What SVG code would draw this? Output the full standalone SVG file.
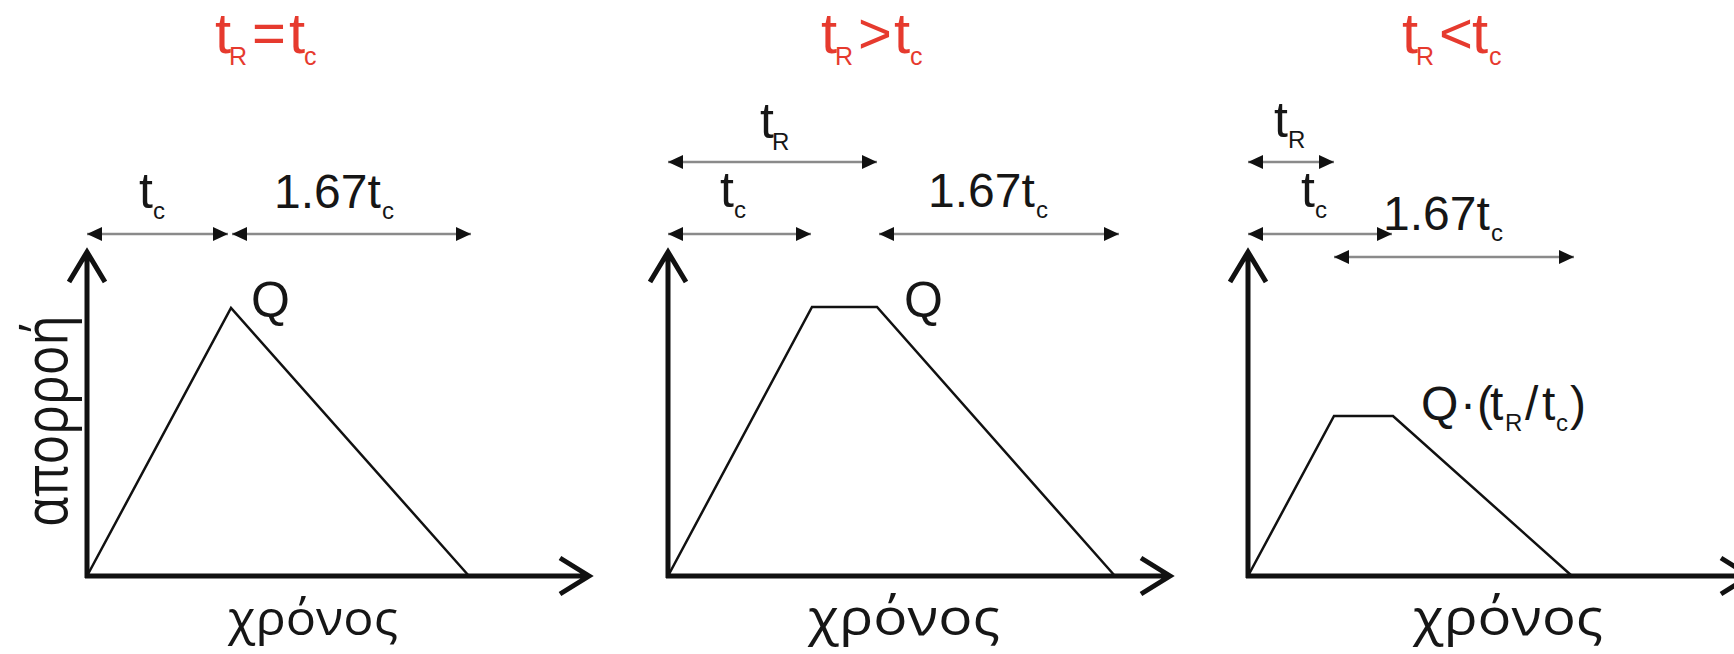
<svg xmlns="http://www.w3.org/2000/svg" width="1734" height="654" viewBox="0 0 1734 654">
<defs>
<style>
.title{font-family:"Liberation Sans",Arial,sans-serif;fill:#e63a2e}
.lbl{font-family:"Liberation Sans",Arial,sans-serif;fill:#161616}
.greek{font-family:"Open Sans","Noto Sans",sans-serif;fill:#161616}
.axis{fill:none;stroke:#111;stroke-width:5;stroke-linejoin:miter}
.curve{fill:none;stroke:#111;stroke-width:2.5;stroke-linejoin:miter}
.dim{fill:none;stroke:#8a8a8a;stroke-width:2.5;marker-start:url(#ah);marker-end:url(#ah)}
</style>
<marker id="ah" viewBox="0 0 15 14" refX="15" refY="7" markerWidth="15" markerHeight="14" markerUnits="userSpaceOnUse" orient="auto-start-reverse">
<path d="M0,0 L15,7 L0,14 z" fill="#111"/>
</marker>
</defs>
<rect width="1734" height="654" fill="#fff"/>

<g id="panel1">
<text class="title" font-size="58"><tspan x="215" y="53">t</tspan><tspan x="229" y="65" font-size="25">R</tspan><tspan x="252" y="53">=</tspan><tspan x="289" y="53">t</tspan><tspan x="304" y="65" font-size="25">c</tspan></text>
<path class="axis" d="M87,578 L87,254 M69,282 L87,252 L105,282"/>
<path class="axis" d="M85,576 L587,576 M560,558 L589,576 L560,594"/>
<path class="curve" d="M87,576 L231,308 L469,576"/>
<text class="lbl" font-size="50"><tspan x="139" y="208">t</tspan><tspan x="153" y="219" font-size="24">c</tspan></text>
<text class="lbl" font-size="48"><tspan x="274" y="208">1.67t</tspan><tspan x="382" y="219" font-size="24">c</tspan></text>
<text class="lbl" font-size="50" x="251" y="317">Q</text>
<text class="greek" font-size="60" transform="translate(67,527) rotate(-90)" textLength="212" lengthAdjust="spacingAndGlyphs">απορροή</text>
<text class="greek" font-size="47" x="228" y="635" textLength="170" lengthAdjust="spacingAndGlyphs">χρόνος</text>
</g>

<g id="panel2">
<text class="title" font-size="58"><tspan x="821" y="53">t</tspan><tspan x="835" y="65" font-size="25">R</tspan><tspan x="858" y="53">&gt;</tspan><tspan x="894" y="53">t</tspan><tspan x="910" y="65" font-size="25">c</tspan></text>
<path class="axis" d="M668,578 L668,254 M650,282 L668,252 L686,282"/>
<path class="axis" d="M666,576 L1168,576 M1141,558 L1170,576 L1141,594"/>
<path class="curve" d="M668,576 L812,307 L877,307 L1115,576"/>
<text class="lbl" font-size="50"><tspan x="760" y="138">t</tspan><tspan x="772" y="150" font-size="24">R</tspan></text>
<text class="lbl" font-size="50"><tspan x="720" y="207">t</tspan><tspan x="734" y="218" font-size="24">c</tspan></text>
<text class="lbl" font-size="48"><tspan x="928" y="207">1.67t</tspan><tspan x="1036" y="218" font-size="24">c</tspan></text>
<text class="lbl" font-size="50" x="904" y="317">Q</text>
<text class="greek" font-size="52" x="808" y="635" textLength="192" lengthAdjust="spacingAndGlyphs">χρόνος</text>
</g>

<g id="panel3">
<text class="title" font-size="58"><tspan x="1402" y="53">t</tspan><tspan x="1416" y="65" font-size="25">R</tspan><tspan x="1439" y="53">&lt;</tspan><tspan x="1472" y="53">t</tspan><tspan x="1489" y="65" font-size="25">c</tspan></text>
<path class="axis" d="M1248,578 L1248,254 M1230,282 L1248,252 L1266,282"/>
<path class="axis" d="M1246,576 L1748,576 M1721,558 L1750,576 L1721,594"/>
<path class="curve" d="M1248,576 L1334,416 L1393,416 L1572,576"/>
<text class="lbl" font-size="50"><tspan x="1274" y="137">t</tspan><tspan x="1288" y="148" font-size="24">R</tspan></text>
<text class="lbl" font-size="50"><tspan x="1301" y="207">t</tspan><tspan x="1315" y="218" font-size="24">c</tspan></text>
<text class="lbl" font-size="48"><tspan x="1383" y="230">1.67t</tspan><tspan x="1491" y="241" font-size="24">c</tspan></text>
<text class="lbl" font-size="48"><tspan x="1421" y="420">Q</tspan><tspan x="1460" y="420">·</tspan><tspan x="1477" y="420">(</tspan><tspan x="1490" y="420">t</tspan><tspan x="1505" y="431" font-size="24">R</tspan><tspan x="1525" y="420">/</tspan><tspan x="1542" y="420">t</tspan><tspan x="1556" y="431" font-size="24">c</tspan><tspan x="1570" y="420">)</tspan></text>
<text class="greek" font-size="52" x="1413" y="635" textLength="190" lengthAdjust="spacingAndGlyphs">χρόνος</text>
</g>

<g id="connectors">
<path class="dim" d="M87,234 L228,234"/>
<path class="dim" d="M232,234 L471,234"/>
<path class="dim" d="M668,162 L877,162"/>
<path class="dim" d="M668,234 L811,234"/>
<path class="dim" d="M879,234 L1119,234"/>
<path class="dim" d="M1248,162 L1334,162"/>
<path class="dim" d="M1248,234 L1392,234"/>
<path class="dim" d="M1334,257 L1574,257"/>
</g>
</svg>
